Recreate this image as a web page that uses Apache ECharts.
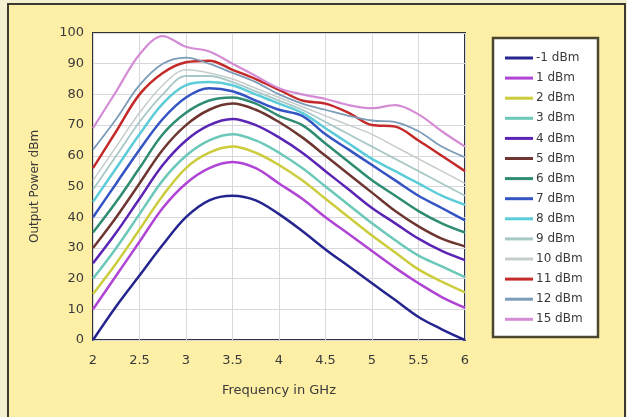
<!DOCTYPE html>
<html>
<head>
<meta charset="utf-8">
<script src="https://cdn.jsdelivr.net/npm/echarts@6/dist/echarts.min.js"></script>
<style>
html, body { margin: 0; padding: 0; background: #f5f0d2; }
#main { width: 627px; height: 417px; }
</style>
</head>
<body>
<div id="main"></div>
<script>
// frequency points (GHz)
var freqs = [2, 2.25, 2.5, 2.75, 3, 3.25, 3.5, 3.75, 4, 4.25, 4.5, 4.75, 5, 5.25, 5.5, 5.75, 6];

var seriesNames = ['-1 dBm', '1 dBm', '2 dBm', '3 dBm', '4 dBm', '5 dBm', '6 dBm',
    '7 dBm', '8 dBm', '9 dBm', '10 dBm', '11 dBm', '12 dBm', '15 dBm'];

var pM1 = [0, 11, 21, 31, 40, 45.5, 47, 45.5, 41, 35.5, 29.5, 24, 18.5, 13, 7.5, 3.5, 0];
var p1  = [10, 21, 32, 43, 51, 56, 58, 56, 51, 46, 40, 34.5, 29, 23.5, 18.5, 14, 10.5];
var p2  = [15, 25, 36, 47, 56, 61, 63, 61, 57, 52, 46, 40, 34, 28.5, 23, 19, 15.5];
var p3  = [20, 30, 41, 52, 60, 65, 67, 65, 61, 56, 50, 44, 38, 32.5, 27.5, 24, 20.5];
var p4  = [25, 35, 46, 57, 65, 70, 72, 70, 66, 61, 55, 49, 43, 38, 33, 29, 26];
var p5  = [30, 40, 51, 62, 70, 75, 77, 75, 71, 66, 60, 54, 48, 42, 37, 33, 30.5];
var p6  = [35, 45, 56, 67, 74, 78, 79, 77, 73, 70, 64, 58, 52, 47, 42, 38, 35];
var p7  = [40, 51, 62, 72, 79, 82, 81, 78, 75, 73, 67, 62, 57, 52, 47, 43, 39];
var p8  = [45, 56, 67, 77, 83, 84, 83, 80, 77, 74, 69, 64, 59, 55, 51, 47, 44];
var p9  = [49, 60, 71, 80, 86, 86, 84, 81, 78, 75, 71, 67, 63, 59, 55, 51, 47];
var p10 = [52, 63, 74, 83, 88, 87, 85, 82, 79, 76, 73, 70, 67, 63, 59, 55, 51];
var p11 = [56, 68, 80, 87, 90.5, 91, 88, 85, 81.5, 78, 77, 74, 70, 69.5, 65, 60, 55];
var p12 = [62, 72, 83, 90, 92, 90, 87, 84, 80, 77, 75, 73, 71.5, 71, 68, 63, 59.5];
var p15 = [69, 81, 93, 99, 95.5, 94, 90, 86, 82, 80, 78.5, 76.5, 75.5, 76.5, 73.5, 68, 63];

var allValues = [pM1, p1, p2, p3, p4, p5, p6, p7, p8, p9, p10, p11, p12, p15];

var colors = ['#25258f', '#b044d4', '#cccc3c', '#6cc8b8', '#5a24b4', '#6e3630', '#2e8c72',
    '#3454c4', '#5cccd8', '#a8c8c8', '#c4cccc', '#c42a2a', '#7c9cb8', '#d48cd4'];
var widths = [2.5, 2.5, 2.5, 2.5, 2.5, 2.5, 2.5, 2.5, 2.5, 1.8, 1.5, 2.5, 1.8, 2.2];

var seriesList = [];
for (var i = 0; i < seriesNames.length; i++) {
    var pts = [];
    for (var j = 0; j < freqs.length; j++) {
        pts.push([freqs[j], allValues[i][j]]);
    }
    seriesList.push({
        name: seriesNames[i],
        type: 'line',
        data: pts,
        smooth: 0.35,
        showSymbol: false,
        z: 2 + i,
        lineStyle: { color: colors[i], width: widths[i] },
        itemStyle: { color: colors[i] }
    });
}

var myChart = echarts.init(document.getElementById('main'));
myChart.setOption({
    animation: false,
    backgroundColor: '#f5f0d2',
    textStyle: { fontFamily: 'DejaVu Sans' },
    graphic: [
        {
            type: 'rect',
            z: -10,
            shape: { x: 8, y: 4, width: 617, height: 430 },
            style: { fill: '#feefa6', stroke: '#3a3a30', lineWidth: 2 }
        },
        {
            type: 'rect',
            z: -5,
            shape: { x: 493, y: 38, width: 105, height: 299 },
            style: { fill: '#ffffff', stroke: '#4a4630', lineWidth: 2.5 }
        }
    ],
    grid: {
        left: 93,
        top: 33,
        right: 162,
        bottom: 77,
        show: true,
        backgroundColor: '#ffffff',
        borderColor: '#333333',
        borderWidth: 2
    },
    legend: {
        orient: 'vertical',
        left: 500,
        top: 47,
        itemWidth: 28,
        itemHeight: 3,
        itemGap: 8.1,
        icon: 'rect',
        data: seriesNames,
        textStyle: { color: '#3a3a3a', fontSize: 12, fontFamily: 'DejaVu Sans', padding: [0, 0, 0, -2] }
    },
    xAxis: {
        type: 'value',
        min: 2,
        max: 6,
        interval: 0.5,
        name: 'Frequency in GHz',
        nameLocation: 'middle',
        nameGap: 44,
        nameTextStyle: { color: '#3a3a3a', fontSize: 13 },
        axisLine: { show: false },
        axisTick: { show: false },
        axisLabel: { color: '#3a3a3a', fontSize: 13, margin: 14 },
        splitLine: { show: true, lineStyle: { color: '#d8d8dc', width: 1 } }
    },
    yAxis: {
        type: 'value',
        min: 0,
        max: 100,
        interval: 10,
        name: 'Output Power dBm',
        nameLocation: 'middle',
        nameGap: 52,
        nameTextStyle: { color: '#3a3a3a', fontSize: 12 },
        axisLine: { show: false },
        axisTick: { show: false },
        axisLabel: { color: '#3a3a3a', fontSize: 13, margin: 9 },
        splitLine: { show: true, lineStyle: { color: '#d8d8dc', width: 1 } }
    },
    series: seriesList
});
</script>
</body>
</html>
